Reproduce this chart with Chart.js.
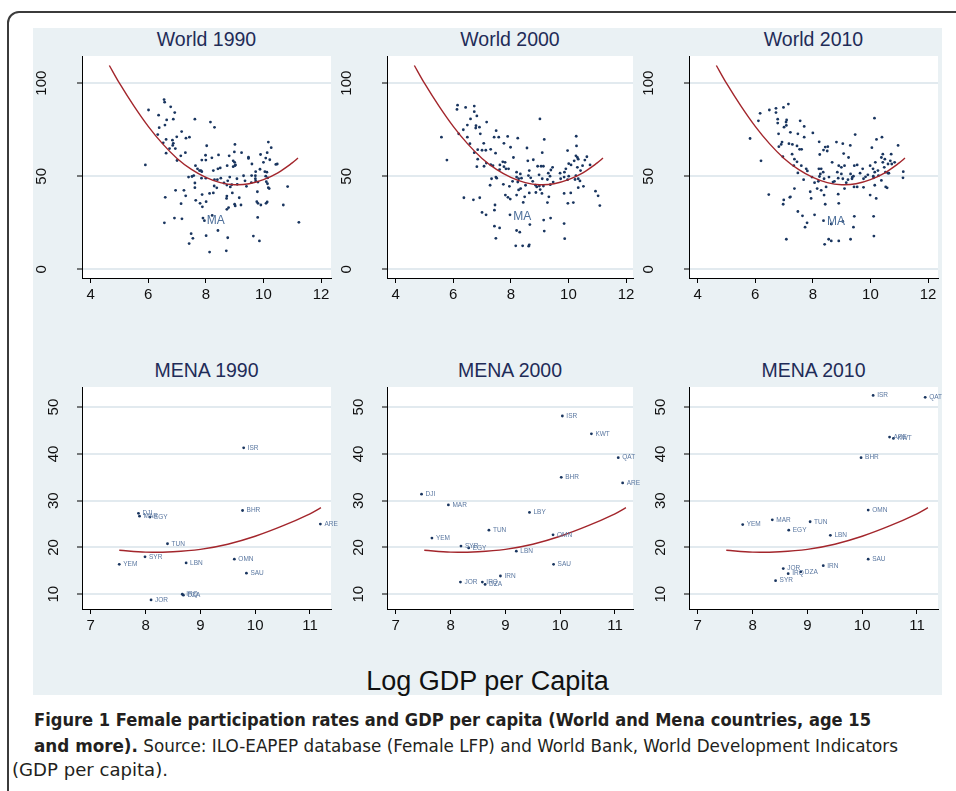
<!DOCTYPE html>
<html>
<head>
<meta charset="utf-8">
<title>Female participation rates and GDP per capita</title>
<script src="https://cdn.jsdelivr.net/npm/chart.js@4.4.1/dist/chart.umd.min.js"></script>
<style>
  html, body { margin: 0; padding: 0; background: #fff; }
  body { width: 956px; height: 791px; position: relative; overflow: hidden; font-family: "Liberation Sans", Arial, sans-serif; }
  #frame { position: absolute; left: 7px; top: 11px; width: 1000px; height: 900px; border: 2px solid #3b3b3b; border-radius: 12px; box-sizing: border-box; }
  #graph { position: absolute; left: 33px; top: 28px; width: 909px; height: 667px; background: #eaf1f4; }
  .ptitle { position: absolute; font-size: 19.5px; color: #1f2c58; text-align: center; line-height: 22px; white-space: nowrap; }
  canvas { position: absolute; }
  #xtitle { position: absolute; left: 33px; width: 909px; top: 665px; text-align: center; font-size: 27px; line-height: 32px; color: #111; }
  .cap { position: absolute; white-space: nowrap; font-family: "Liberation Sans Narrow", "DejaVu Sans Condensed", "Liberation Sans", sans-serif; font-size: 18px; line-height: 20px; color: #231f20; transform-origin: 0 0; }
</style>
</head>
<body>
<div id="frame"></div>
<div id="graph"></div>
<div id="xtitle">Log GDP per Capita</div>
<div class="cap" id="cap1" style="left:34px;top:710px"><b>Figure 1 Female participation rates and GDP per capita (World and Mena countries, age 15</b></div>
<div class="cap" id="cap2" style="left:34px;top:736px"><b>and more).</b> Source: ILO-EAPEP database (Female LFP) and World Bank, World Development Indicators</div>
<div class="cap" id="cap3" style="left:12px;top:760px">(GDP per capita).</div>
<script>
// ---- data ----
const world1990X = [5.9,6.01,6.36,6.55,6.57,6.78,6.92,6.38,6.58,6.64,6.87,7.62,8.16,8.3,6.33,7.16,6.99,6.62,6.84,7.31,7.43,6.52,6.87,6.85,6.74,6.94,6.62,7.29,7.13,7.0,8.03,7.99,8.21,7.86,8.0,8.44,9.01,8.99,9.24,8.81,9.48,9.48,8.95,9.0,9.03,9.01,8.95,9.6,8.74,8.5,8.42,8.26,7.64,7.71,7.78,7.83,7.86,7.52,7.58,7.62,7.62,7.85,8.0,8.3,8.29,8.38,8.26,8.13,7.87,8.01,7.8,7.65,7.88,7.3,7.14,6.95,6.59,8.52,8.63,8.76,8.73,8.85,8.9,8.92,8.73,8.72,9.16,9.0,9.02,8.79,8.73,9.22,9.36,9.41,9.58,9.73,9.72,9.72,9.73,9.88,9.81,9.79,9.77,9.81,9.91,9.9,10.0,10.05,10.12,10.08,10.15,10.1,10.14,10.17,10.2,10.13,10.09,10.17,10.13,10.27,10.08,10.22,10.43,10.48,10.84,10.69,11.23,9.8,9.65,9.86,8.76,8.71,8.13,8.01,8.42,7.9,7.95,8.22,7.17,6.91,6.56,7.49,7.55,7.42,7.4,7.24,8.83,9.31,9.08,9.09,8.4,9.59];
const world1990Y = [56.1,85.6,82.8,91.2,89.8,87.3,84.2,76.1,77.5,80.3,80.7,80.7,79.1,76.3,72.4,74,71.2,69.8,69.4,70.5,71,68,67.7,66.6,64.9,64.9,62.4,62.7,61,58.5,66.4,61.3,59.9,58.7,58.7,61.5,67.1,63.1,62.7,61,60.3,59.6,58.3,57.5,56.1,55.7,55.2,56.6,55.7,54.5,54,53.1,55.7,54,53.1,53.1,52.5,49.9,50.4,46.4,43.9,49,49,48.2,44.8,43.8,41.1,40.8,40.2,36.4,35.5,37.1,33.6,39.5,35.3,42.5,38.7,49,46.4,47.6,45.3,44.3,45.5,41.1,39.4,38.1,38.5,35,34.1,33.2,32.3,34.6,47.6,44.6,46.6,52.5,50.3,48.7,47.5,53.8,46.9,41.7,36.4,35.5,34.6,61.7,57.5,52.5,52.2,50.1,49.2,47.1,46,43.9,43.4,36.2,35.5,68.4,62.7,65.4,59.8,58.9,56.4,56.6,44.5,34.6,25.3,27.9,17.9,15.3,17.0,10.0,9.3,18.1,20.9,27.6,26.2,29,27.2,27.6,25,19.2,16.7,13.9,49.6,42.5,49.6,50.3,48.7,45.7,48.2,50.4];

const world2000X = [5.59,5.78,6.15,6.13,6.43,6.73,6.73,6.82,6.6,6.49,6.35,6.19,6.49,6.79,6.78,6.91,7.16,6.94,6.58,6.85,6.73,6.85,6.82,7.0,7.06,7.13,7.3,7.49,7.42,7.58,7.89,8.24,7.76,7.99,8.56,7.47,7.72,7.8,7.76,7.83,7.92,7.3,7.38,7.15,7.62,7.33,7.28,7.48,7.51,7.74,7.95,7.81,7.9,7.98,8.09,8.2,8.33,8.2,8.27,8.37,8.24,8.06,8.2,8.27,8.34,8.48,8.43,8.59,8.78,8.64,8.61,8.51,8.69,8.76,8.64,8.93,9.05,9.13,8.98,9.09,8.86,8.9,8.99,9.13,9.09,9.01,9.16,8.87,9.02,9.08,9.27,9.3,9.36,9.39,9.45,9.32,9.27,9.37,9.47,9.71,9.73,9.85,9.86,9.91,9.85,9.97,10.01,10.01,9.97,9.98,10.08,10.17,10.09,10.2,10.26,10.28,10.27,10.31,10.34,10.31,10.26,10.23,10.34,10.4,10.34,10.52,10.42,10.49,10.57,10.64,10.75,10.94,11.03,11.09,9.85,9.87,9.16,9.14,9.38,8.66,8.41,8.64,8.62,8.17,8.2,8.31,7.97,7.43,7.61,7.48,7.43,7.45,7.14,7.0,6.92,6.7,6.37,7.07,7.61];
const world2000Y = [71,58.7,88.2,85.9,87,87.7,84.7,82.4,80.8,77.5,75,72.8,71,77.2,75.9,76.4,79.1,72.8,67.5,64.3,62.7,59.2,55.2,64,67.7,64,64.5,74.5,71,71,71.4,70.5,67.7,65.6,65.2,62.4,57.8,57.5,55.2,54,54,56.2,55.7,57.1,56.1,48.7,45.2,49.6,49,45.7,44.6,39.9,38.7,37.8,60.1,52.2,51.3,49.6,48.7,49,46.9,47.3,39.9,42.7,43.4,39,36,58.3,58.9,53.1,50.4,45.2,49.2,47.3,41.1,55.4,55.4,55.4,50.8,48.7,45.2,44.3,44.8,44.8,62.7,80.8,69.8,41.3,42.9,40.8,48.3,51.7,50.1,53.4,54.8,39,35.9,45.5,46.9,51.7,48.7,49.6,52.2,54,40.8,63.8,56.8,50.1,48.2,35.5,41.1,35.9,56.1,58.3,61,66.3,71.5,60.1,59.2,54.8,50.4,48.3,48.7,47.5,43.9,44.6,53.1,55.7,58.7,60.5,56.1,42,39.5,34.3,24.6,16.5,20.6,26.5,27.6,24.1,12.7,13.2,12.5,12.7,20.9,20,29.3,23.2,22.3,16.7,31.8,34.6,29.3,30.6,38.5,37.4,38.5,55.4,53.6];

const world2010X = [5.82,6.2,6.11,6.17,6.49,6.72,6.98,7.15,6.72,6.78,6.78,7.0,7.08,7.09,7.07,7.56,7.7,7.22,6.81,7.48,7.7,8.0,6.93,6.9,6.82,7.17,7.29,7.45,7.54,7.61,6.96,7.28,7.36,7.45,7.34,7.6,7.48,7.77,7.81,7.68,7.97,8.06,7.91,7.94,7.36,7.2,6.99,6.97,6.47,8.22,8.24,8.43,8.52,8.5,8.37,8.67,8.82,9.04,9.3,9.07,9.24,9.47,8.21,8.29,8.36,8.26,8.23,8.39,8.19,8.15,8.29,8.39,8.46,8.56,8.7,8.75,8.85,8.9,8.99,9.1,8.88,8.99,9.04,9.16,9.22,9.31,9.37,9.36,9.41,9.44,9.54,9.43,9.54,9.1,8.88,8.9,8.43,9.64,9.73,9.76,9.83,9.76,9.91,9.99,9.99,10.05,10.09,10.1,10.11,10.15,10.17,10.15,10.2,10.14,10.21,10.26,10.28,10.38,10.38,10.43,10.4,10.5,10.43,10.48,10.52,10.61,10.53,10.58,10.61,10.69,10.72,10.64,10.74,10.84,10.96,11.14,11.13,10.11,10.12,9.44,9.41,9.31,9.04,8.9,8.64,8.55,8.41,8.37,8.64,8.06,7.8,7.73,7.64,7.48,7.08,7.22];
const world2010Y = [70.3,58.3,79.8,83.8,85.6,86.5,87,88.8,84.2,80.7,78.6,76.4,77.3,80.3,79.1,79.8,76.8,73.6,72.8,72.8,71,73.3,68.4,67.1,65.9,67.5,67.1,66.3,64.5,64.5,60.5,61.9,59.2,57.8,55.7,55.7,51.8,54,52.9,48.2,49.6,46.6,41.7,38.1,43.4,38.7,37.3,35,40.2,68.5,61.7,65.7,65.9,63.6,64.1,57.5,68.4,67.5,66.6,62.2,60.1,72.4,54,54,52.2,51.3,49.9,48.7,47.3,43.4,42.5,39.9,44.3,49.6,46.9,47.3,52.2,55.7,54.8,55.7,49,51.3,48.7,46.6,48.2,51.3,49.6,48.7,50.1,55.7,56.1,44.3,44.3,43.4,40.4,35.5,35,51.7,54,48.7,49.7,44.1,50.8,55.7,39.9,65.4,54,50.1,49.2,52.2,57.5,45.2,38.1,81.2,69.8,53.1,50.4,47.8,60.1,61.9,71,59.2,57.5,54.8,52.2,51.7,44.3,43.8,56.6,58.3,61.9,51.7,56.6,57.5,66.6,52.5,49.2,28.5,17.9,28.5,22.7,16.2,25.8,15.3,15.3,16.2,13.5,26.2,24.4,29.3,25,22.7,28.8,31.1,16.2,39];

// "MA" marker label, one per world panel (1990, 2000, 2010)
const maX = [8.03, 8.08, 8.49];
const maY = [26.3, 28.5, 25.9];

// fitted quadratic curves, read at a few points
const worldFitX = [4.65, 5, 5.5, 6, 6.5, 7, 7.5, 8, 8.5, 9, 9.5, 10, 10.5, 11, 11.2];
const worldFitY = [109.5, 100, 87.8, 76.8, 67.4, 59.6, 53.7, 49.4, 46.6, 45.5, 46, 48.2, 51.9, 57.2, 59.8];
const menaFitX = [7.52, 8, 8.5, 9, 9.5, 10, 10.5, 11, 11.2];
const menaFitY = [19.4, 19.0, 19.1, 19.6, 20.7, 22.4, 24.6, 27.2, 28.5];

const mena1990Codes = ['ISR','BHR','DJI','MAR','EGY','ARE','TUN','SYR','YEM','LBN','OMN','SAU','JOR','IRQ','DZA'];
const mena1990X = [9.79, 9.77, 7.87, 7.89, 8.08, 11.19, 8.40, 7.99, 7.52, 8.74, 9.62, 9.84, 8.10, 8.67, 8.69];
const mena1990Y = [41.3, 27.9, 27.3, 26.7, 26.5, 25.0, 20.8, 18.0, 16.4, 16.7, 17.5, 14.5, 8.8, 10.0, 9.8];

const mena2000Codes = ['ISR','KWT','QAT','BHR','ARE','DJI','MAR','LBY','TUN','OMN','YEM','SYR','EGY','LBN','SAU','IRN','JOR','IRQ','DZA'];
const mena2000X = [10.04, 10.57, 11.06, 10.02, 11.14, 7.47, 7.96, 9.44, 8.70, 9.87, 7.66, 8.19, 8.33, 9.20, 9.88, 8.91, 8.18, 8.58, 8.63];
const mena2000Y = [48.1, 44.3, 39.2, 35.0, 33.8, 31.4, 29.1, 27.5, 23.7, 22.7, 22.0, 20.3, 19.9, 19.2, 16.4, 13.9, 12.6, 12.6, 12.1];

const mena2010Codes = ['ISR','QAT','ARE','KWT','BHR','OMN','MAR','TUN','YEM','EGY','LBN','SAU','IRN','JOR','IRQ','DZA','SYR'];
const mena2010X = [10.20, 11.15, 10.50, 10.57, 9.98, 10.11, 8.36, 9.05, 7.82, 8.66, 9.42, 10.11, 9.29, 8.56, 8.65, 8.88, 8.42];
const mena2010Y = [52.5, 52.1, 43.6, 43.3, 39.2, 28.0, 25.9, 25.5, 24.9, 23.7, 22.6, 17.5, 16.1, 15.5, 14.4, 14.8, 12.9];

const worldXTicks = [4, 6, 8, 10, 12];
const worldYTicks = [0, 50, 100];
const menaXTicks = [7, 8, 9, 10, 11];
const menaYTicks = [10, 20, 30, 40, 50];

// ---- layout ----
const Y_AXIS_W = 50;
const X_AXIS_H = 30;
const PAD_R = 14;
const FONT = '"Liberation Sans", Arial, sans-serif';

const cols = [
  { left: 82, width: 249 },
  { left: 387, width: 246 },
  { left: 689, width: 249 }
];

const panels = [
  { title: 'World 1990', col: 0, row: 'world', xs: world1990X, ys: world1990Y, ma: 0 },
  { title: 'World 2000', col: 1, row: 'world', xs: world2000X, ys: world2000Y, ma: 1 },
  { title: 'World 2010', col: 2, row: 'world', xs: world2010X, ys: world2010Y, ma: 2 },
  { title: 'MENA 1990', col: 0, row: 'mena', xs: mena1990X, ys: mena1990Y, codes: mena1990Codes },
  { title: 'MENA 2000', col: 1, row: 'mena', xs: mena2000X, ys: mena2000Y, codes: mena2000Codes },
  { title: 'MENA 2010', col: 2, row: 'mena', xs: mena2010X, ys: mena2010Y, codes: mena2010Codes }
];

const rows = {
  world: { top: 52, height: 226, titleY: 39, xMin: 3.7, pxPerX: 28.8, yMin: -4.6, yMax: 114.6,
           xTicks: worldXTicks, yTicks: worldYTicks, fitX: worldFitX, fitY: worldFitY, labelOffset: 40 },
  mena:  { top: 383, height: 226, titleY: 370, xMin: 6.84, pxPerX: 54.8, yMin: 6.85, yMax: 54.3,
           xTicks: menaXTicks, yTicks: menaYTicks, fitX: menaFitX, fitY: menaFitY, labelOffset: 28 }
};

// white plot region
const plotBg = {
  id: 'plotBg',
  beforeDraw(chart) {
    const a = chart.chartArea, ctx = chart.ctx;
    ctx.save();
    ctx.fillStyle = '#ffffff';
    ctx.fillRect(a.left, a.top, a.right - a.left, a.bottom - a.top);
    ctx.restore();
  }
};

// rotated y tick labels, Stata style
const yLabels = {
  id: 'yLabels',
  afterDraw(chart, args, opts) {
    const s = chart.scales.y, ctx = chart.ctx;
    ctx.save();
    ctx.fillStyle = '#111';
    ctx.font = '15px ' + FONT;
    ctx.textAlign = 'center';
    ctx.textBaseline = 'middle';
    s.ticks.forEach(t => {
      ctx.save();
      ctx.translate(s.right - opts.offset, s.getPixelForValue(t.value));
      ctx.rotate(-Math.PI / 2);
      ctx.fillText(String(t.value), 0, 0);
      ctx.restore();
    });
    ctx.restore();
  }
};

// country codes / MA text next to points
const pointLabels = {
  id: 'pointLabels',
  afterDatasetsDraw(chart) {
    const ctx = chart.ctx;
    chart.data.datasets.forEach((ds, i) => {
      if (!ds.pointText) return;
      const meta = chart.getDatasetMeta(i);
      ctx.save();
      ctx.fillStyle = ds.textColor;
      ctx.font = ds.textFont;
      ctx.textAlign = 'left';
      ctx.textBaseline = 'middle';
      meta.data.forEach((el, j) => ctx.fillText(ds.pointText[j], el.x + ds.textDx, el.y));
      ctx.restore();
    });
  }
};

function drawPanel(p) {
  const c = cols[p.col], r = rows[p.row];
  const W = Y_AXIS_W + c.width + PAD_R, H = r.height + X_AXIS_H;

  const t = document.createElement('div');
  t.className = 'ptitle';
  t.textContent = p.title;
  t.style.left = c.left + 'px';
  t.style.width = c.width + 'px';
  t.style.top = (r.titleY - 11) + 'px';
  document.body.appendChild(t);

  const cv = document.createElement('canvas');
  cv.width = W; cv.height = H;
  cv.style.width = W + 'px'; cv.style.height = H + 'px';
  cv.style.left = (c.left - Y_AXIS_W) + 'px';
  cv.style.top = r.top + 'px';
  document.body.appendChild(cv);

  const datasets = [
    {
      data: r.fitX.map((x, i) => ({ x: x, y: r.fitY[i] })),
      showLine: true, borderColor: '#a3262c', borderWidth: 1.4,
      pointRadius: 0, tension: 0.35, fill: false
    },
    {
      data: p.xs.map((x, i) => ({ x: x, y: p.ys[i] })),
      pointRadius: 1.4, pointBorderWidth: 0, pointBackgroundColor: '#19355f',
      pointText: p.codes, textColor: '#5a77a0', textFont: '6.5px ' + FONT, textDx: 4
    }
  ];
  if (p.ma !== undefined) {
    datasets.push({
      data: [{ x: maX[p.ma], y: maY[p.ma] }],
      pointRadius: 0, pointText: ['MA'], textColor: '#4d6f9a', textFont: '12px ' + FONT, textDx: 0
    });
  }

  new Chart(cv, {
    type: 'scatter',
    data: { datasets: datasets },
    options: {
      responsive: false,
      animation: false,
      devicePixelRatio: 1,
      layout: { padding: { left: 0, right: PAD_R, top: 0, bottom: 0 } },
      plugins: { legend: { display: false }, tooltip: { enabled: false }, yLabels: { offset: r.labelOffset } },
      scales: {
        x: {
          type: 'linear', min: r.xMin, max: r.xMin + c.width / r.pxPerX,
          afterBuildTicks: s => { s.ticks = r.xTicks.map(v => ({ value: v })); },
          afterFit: s => { s.height = X_AXIS_H; },
          grid: { drawOnChartArea: false, drawTicks: true, tickLength: 5, tickColor: '#000', tickWidth: 1 },
          border: { color: '#000', width: 1 },
          ticks: { color: '#111', font: { size: 15, family: FONT }, padding: 3, maxRotation: 0, autoSkip: false }
        },
        y: {
          type: 'linear', min: r.yMin, max: r.yMax,
          afterBuildTicks: s => { s.ticks = r.yTicks.map(v => ({ value: v })); },
          afterFit: s => { s.width = Y_AXIS_W; },
          grid: { color: '#e2eaef', lineWidth: 2, drawTicks: true, tickLength: 5, tickColor: '#000', tickWidth: 1 },
          border: { color: '#000', width: 1 },
          ticks: { display: false }
        }
      }
    },
    plugins: [plotBg, yLabels, pointLabels]
  });
}

panels.forEach(drawPanel);

// stretch caption lines to the measured widths of the original
function fitLine(id, w) {
  const el = document.getElementById(id);
  const cur = el.getBoundingClientRect().width;
  if (cur > 0) el.style.transform = 'scaleX(' + (w / cur) + ')';
}
fitLine('cap1', 837);
fitLine('cap2', 864);
fitLine('cap3', 156);
</script>
</body>
</html>
